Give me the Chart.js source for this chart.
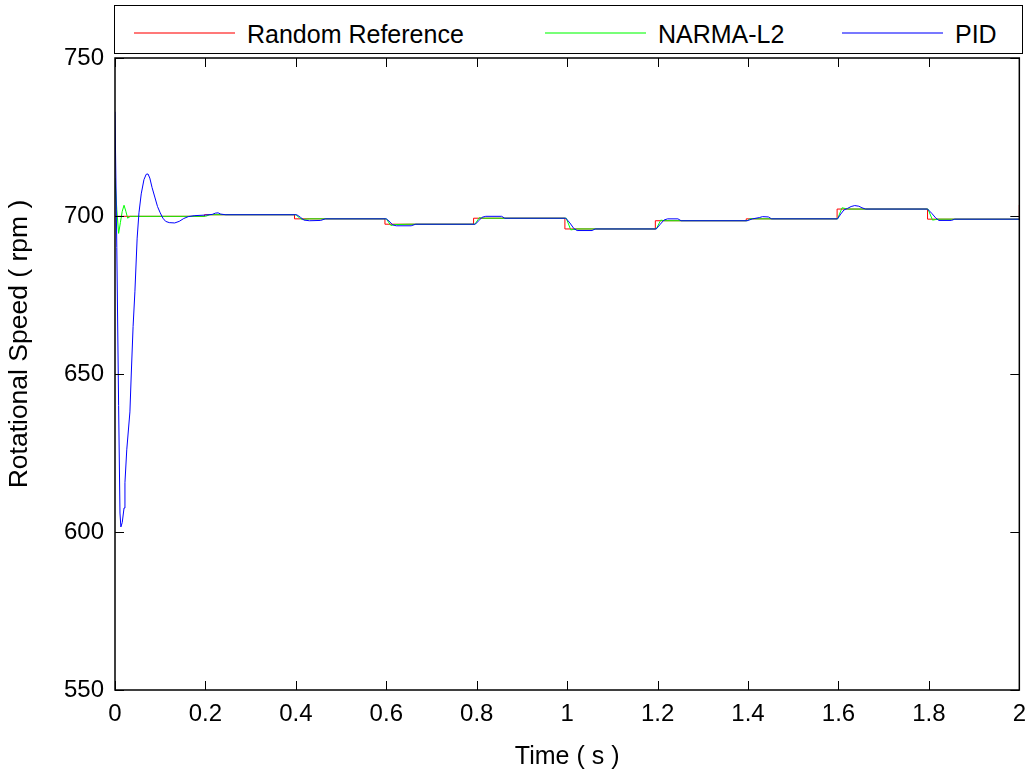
<!DOCTYPE html>
<html>
<head>
<meta charset="utf-8">
<script src="https://cdn.jsdelivr.net/npm/chart.js@4/dist/chart.umd.min.js"></script>
<style>
  body { margin: 0; background: #fff; }
  #wrap { position: relative; width: 1036px; height: 778px; }
  #myChart { position: absolute; left: 0; top: 0; }
  #legend { position: absolute; left: 114px; top: 5px; width: 907px; height: 47px;
            border: 1px solid #000; background: #fff; font-family: Arial, "Liberation Sans", sans-serif; font-size: 25px; }
  .item-line { position: absolute; top: 26px; width: 101px; height: 2px; }
  .item-text { position: absolute; top: 13px; line-height: 30px; color: #000; white-space: nowrap; }
</style>
</head>
<body>
<div id="wrap">
  <canvas id="myChart" width="1036" height="778"></canvas>
  <div id="legend"></div>
</div>
<script>
// series names
const seriesNames = ['Random Reference', 'NARMA-L2', 'PID'];

// random reference (stepped) - time in s, speed in rpm
const refTime  = [0, 0.198, 0.397, 0.597, 0.793, 0.995, 1.195, 1.396, 1.597, 1.797, 2.0];
const refSpeed = [699.9, 700.4, 699.1, 697.4, 699.3, 695.9, 698.5, 699.1, 702.2, 699.0, 703.5];

// NARMA-L2 response
const narmaTime  = [0, 0.004, 0.008, 0.012, 0.016, 0.02, 0.024, 0.028, 0.034, 0.2, 0.21,
                    0.4, 0.408, 0.414, 0.43, 0.6, 0.61, 0.62, 0.65, 0.796, 0.806, 0.814,
                    0.998, 1.008, 1.02, 1.197, 1.207, 1.215, 1.398, 1.405, 1.412,
                    1.598, 1.608, 1.62, 1.798, 1.808, 1.82, 2.0];
const narmaSpeed = [712, 702, 694.5, 698, 701.5, 703.4, 701.5, 699.3, 699.9, 699.9, 700.4,
                    700.4, 699.4, 698.9, 699.1, 699.1, 697.0, 697.3, 697.4, 697.4, 699.5, 699.3,
                    699.3, 695.6, 695.9, 695.9, 698.7, 698.5, 698.5, 699.2, 699.1,
                    699.1, 702.6, 702.2, 702.2, 698.7, 699.0, 699.0];

// PID response
const pidTime  = [0, 0.004, 0.008, 0.011, 0.013, 0.016, 0.02, 0.022, 0.026, 0.033, 0.036, 0.04, 0.044,
                  0.049, 0.053, 0.058, 0.064, 0.069, 0.073, 0.077, 0.082, 0.088, 0.094, 0.1, 0.106,
                  0.112, 0.12, 0.132, 0.142, 0.152, 0.162, 0.175, 0.2,
                  0.215, 0.222, 0.228, 0.234, 0.245,
                  0.402, 0.41, 0.418, 0.43, 0.455, 0.465,
                  0.6, 0.606, 0.614, 0.622, 0.655, 0.665,
                  0.797, 0.805, 0.812, 0.82, 0.855, 0.862,
                  0.997, 1.006, 1.015, 1.022, 1.055, 1.062,
                  1.197, 1.206, 1.214, 1.222, 1.245, 1.252,
                  1.398, 1.41, 1.425, 1.432, 1.445, 1.452,
                  1.598, 1.605, 1.612, 1.62, 1.628, 1.636, 1.645, 1.652, 1.66,
                  1.797, 1.806, 1.815, 1.822, 1.85, 1.857, 2.0];
const pidSpeed = [733, 690, 640, 606, 601.6, 603, 607.6, 615.6, 626, 638, 650, 665, 676,
                  693, 701, 707, 711.5, 713.2, 713.3, 712, 709, 706, 703, 701, 699.3,
                  698.3, 697.9, 697.8, 698.3, 699.2, 699.8, 700.1, 700.3,
                  700.5, 700.9, 701.0, 700.6, 700.4,
                  700.4, 699.6, 698.7, 698.5, 698.6, 699.1,
                  699.1, 698.4, 697.2, 696.9, 696.9, 697.4,
                  697.4, 698.6, 699.6, 699.9, 699.9, 699.3,
                  699.3, 697.8, 696.0, 695.4, 695.4, 695.9,
                  695.9, 697.4, 698.7, 699.1, 699.1, 698.5,
                  698.5, 699.1, 699.5, 699.8, 699.7, 699.1,
                  699.1, 700.6, 701.9, 702.4, 703.0, 703.3, 703.1, 702.6, 702.2,
                  702.2, 700.9, 699.4, 698.6, 698.6, 699.0, 699.0];

// axis ranges
const xMin = 0, xMax = 2, xStep = 0.2;
const yMin = 550, yMax = 750, yStep = 50;

function toPoints(xs, ys) {
  return xs.map((t, i) => ({ x: t, y: ys[i] }));
}

const font = 'Arial, "Liberation Sans", sans-serif';
const yTitle = 'Rotational Speed ( rpm )';

// box around the plot with inward ticks, like matlab axes
const framePlugin = {
  id: 'frame',
  afterDatasetsDraw(chart) {
    const { ctx, chartArea: a, scales: { x, y } } = chart;
    const len = 9;
    ctx.save();
    ctx.strokeStyle = '#000';
    ctx.lineWidth = 1;
    ctx.beginPath();
    x.ticks.forEach(t => {
      const px = Math.round(x.getPixelForValue(t.value)) + 0.5;
      ctx.moveTo(px, a.bottom); ctx.lineTo(px, a.bottom - len);
      ctx.moveTo(px, a.top); ctx.lineTo(px, a.top + len);
    });
    y.ticks.forEach(t => {
      const py = Math.round(y.getPixelForValue(t.value)) + 0.5;
      ctx.moveTo(a.left, py); ctx.lineTo(a.left + len, py);
      ctx.moveTo(a.right, py); ctx.lineTo(a.right - len, py);
    });
    ctx.stroke();
    ctx.lineWidth = 1.5;
    ctx.strokeRect(a.left, a.top, a.right - a.left, a.bottom - a.top);

    // y axis label, sits a little above the axis centre in the original
    ctx.translate(20, (a.top + a.bottom) / 2 - 30);
    ctx.rotate(-Math.PI / 2);
    ctx.fillStyle = '#000';
    ctx.font = '26.5px ' + font;
    ctx.textAlign = 'center';
    ctx.textBaseline = 'middle';
    ctx.fillText(yTitle, 0, 0);
    ctx.restore();
  }
};

const ctx = document.getElementById('myChart').getContext('2d');
const myChart = new Chart(ctx, {
  type: 'line',
  data: {
    datasets: [
      { label: seriesNames[0], data: toPoints(refTime, refSpeed), stepped: 'before',
        borderColor: 'rgb(255,0,0)', borderWidth: 1, pointRadius: 0, order: 3, clip: 4 },
      { label: seriesNames[1], data: toPoints(narmaTime, narmaSpeed),
        borderColor: 'rgb(0,255,0)', borderWidth: 1, pointRadius: 0, order: 2 },
      { label: seriesNames[2], data: toPoints(pidTime, pidSpeed),
        borderColor: 'rgb(0,0,255)', borderWidth: 1, pointRadius: 0, order: 1 }
    ]
  },
  options: {
    responsive: false,
    animation: false,
    layout: { padding: { left: 0, right: 14, top: 58, bottom: 0 } },
    plugins: { legend: { display: false }, tooltip: { enabled: false } },
    scales: {
      x: {
        type: 'linear', min: xMin, max: xMax,
        grid: { display: false, drawTicks: false },
        border: { display: false },
        ticks: { stepSize: xStep, color: '#000', padding: 10, maxRotation: 0,
                 font: { family: font, size: 24 },
                 callback: v => String(Number(v.toFixed(1))) },
        title: { display: true, text: 'Time ( s )', color: '#000',
                 font: { family: font, size: 25 }, padding: { top: 0, bottom: 6 } },
        afterFit: s => { s.height = 88; }
      },
      y: {
        min: yMin, max: yMax,
        grid: { display: false, drawTicks: false },
        border: { display: false },
        ticks: { stepSize: yStep, color: '#000', padding: 11,
                 font: { family: font, size: 24 } },
        afterFit: s => { s.width = 115; }
      }
    }
  },
  plugins: [framePlugin]
});

// matlab style legend box above the axes
const legendLeft = [19, 430, 727];
const legendColor = ['rgb(255,120,120)', 'rgb(120,255,120)', 'rgb(120,120,255)'];
const legendEl = document.getElementById('legend');
myChart.data.datasets.forEach((ds, i) => {
  const line = document.createElement('div');
  line.className = 'item-line';
  line.style.left = legendLeft[i] + 'px';
  line.style.background = legendColor[i];
  const txt = document.createElement('div');
  txt.className = 'item-text';
  txt.style.left = (legendLeft[i] + 113) + 'px';
  txt.textContent = ds.label;
  legendEl.appendChild(line);
  legendEl.appendChild(txt);
});
</script>
</body>
</html>
